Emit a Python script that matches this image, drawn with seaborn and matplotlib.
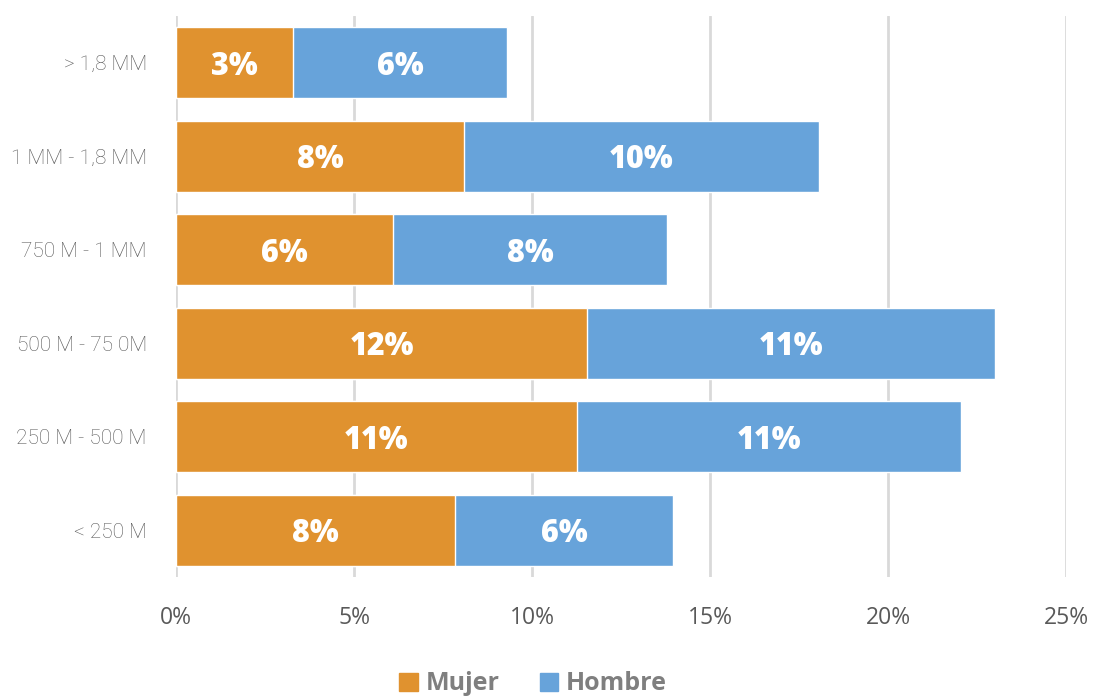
import matplotlib
matplotlib.use("Agg")
import matplotlib.pyplot as plt
import pandas as pd
import seaborn as sns
from matplotlib.patches import Patch

categories = ["> 1,8 MM", "1 MM - 1,8 MM", "750 M - 1 MM", "500 M - 75 0M", "250 M - 500 M", "< 250 M"]
mujer = [3.3, 8.1, 6.1, 11.55, 11.25, 7.85]
hombre = [6.0, 9.95, 7.7, 11.45, 10.8, 6.1]
x_ticks = [0, 5, 10, 15, 20, 25]

ORANGE = "#E0922F"
BLUE = "#67A3DA"

sns.set_theme(style="white")
plt.rcParams["font.family"] = ["Open Sans", "DejaVu Sans"]

data = pd.DataFrame({"rango": categories, "Mujer": mujer, "Hombre": hombre})
data["total"] = data["Mujer"] + data["Hombre"]

fig = plt.figure(figsize=(10.95, 6.99), dpi=100)
ax = fig.add_axes([176 / 1095, 1 - 577 / 699, 890 / 1095, 561 / 699])

sns.barplot(data=data, x="total", y="rango", orient="h", color=BLUE, width=0.76, ax=ax, saturation=1, zorder=2)
sns.barplot(data=data, x="Mujer", y="rango", orient="h", color=ORANGE, width=0.76, ax=ax, saturation=1, zorder=3)

n = len(categories)
label_kw = dict(ha="center", va="center_baseline", color="white", fontsize=22, fontweight=800, zorder=4)
for i, patch in enumerate(ax.patches[:n]):
    y = patch.get_y() + patch.get_height() / 2
    ax.text(mujer[i] + hombre[i] / 2, y, f"{round(hombre[i]):.0f}%", **label_kw)
for i, patch in enumerate(ax.patches[n:2 * n]):
    y = patch.get_y() + patch.get_height() / 2
    ax.text(mujer[i] / 2, y, f"{round(mujer[i]):.0f}%", **label_kw)

ax.set_xlim(0, 25)
ax.set_xticks(x_ticks)
ax.set_xticklabels([f"{t}%" for t in x_ticks], color="#595959", fontsize=16.5)
ax.set_yticklabels(categories, color="#595959", fontsize=15, fontweight="light",
                   family=["Roboto", "Open Sans", "DejaVu Sans"])
ax.tick_params(axis="x", pad=21, length=0)
ax.tick_params(axis="y", pad=21, length=0)
ax.set_xlabel("")
ax.set_ylabel("")
ax.xaxis.grid(True, color="#d9d9d9", linewidth=2, zorder=0)
ax.set_axisbelow(True)
for spine in ax.spines.values():
    spine.set_visible(False)

handles = [Patch(color=ORANGE, label="Mujer"), Patch(color=BLUE, label="Hombre")]
leg = fig.legend(handles=handles, loc="center", bbox_to_anchor=(533 / 1095, 1 - 684 / 699), ncol=2,
                 frameon=False, fontsize=18, handlelength=0.75, handleheight=0.75, handletextpad=0.3,
                 columnspacing=1.6)
for txt in leg.get_texts():
    txt.set_color("#7f7f7f")
    txt.set_fontweight("bold")

fig.savefig("out.png", dpi=100)
